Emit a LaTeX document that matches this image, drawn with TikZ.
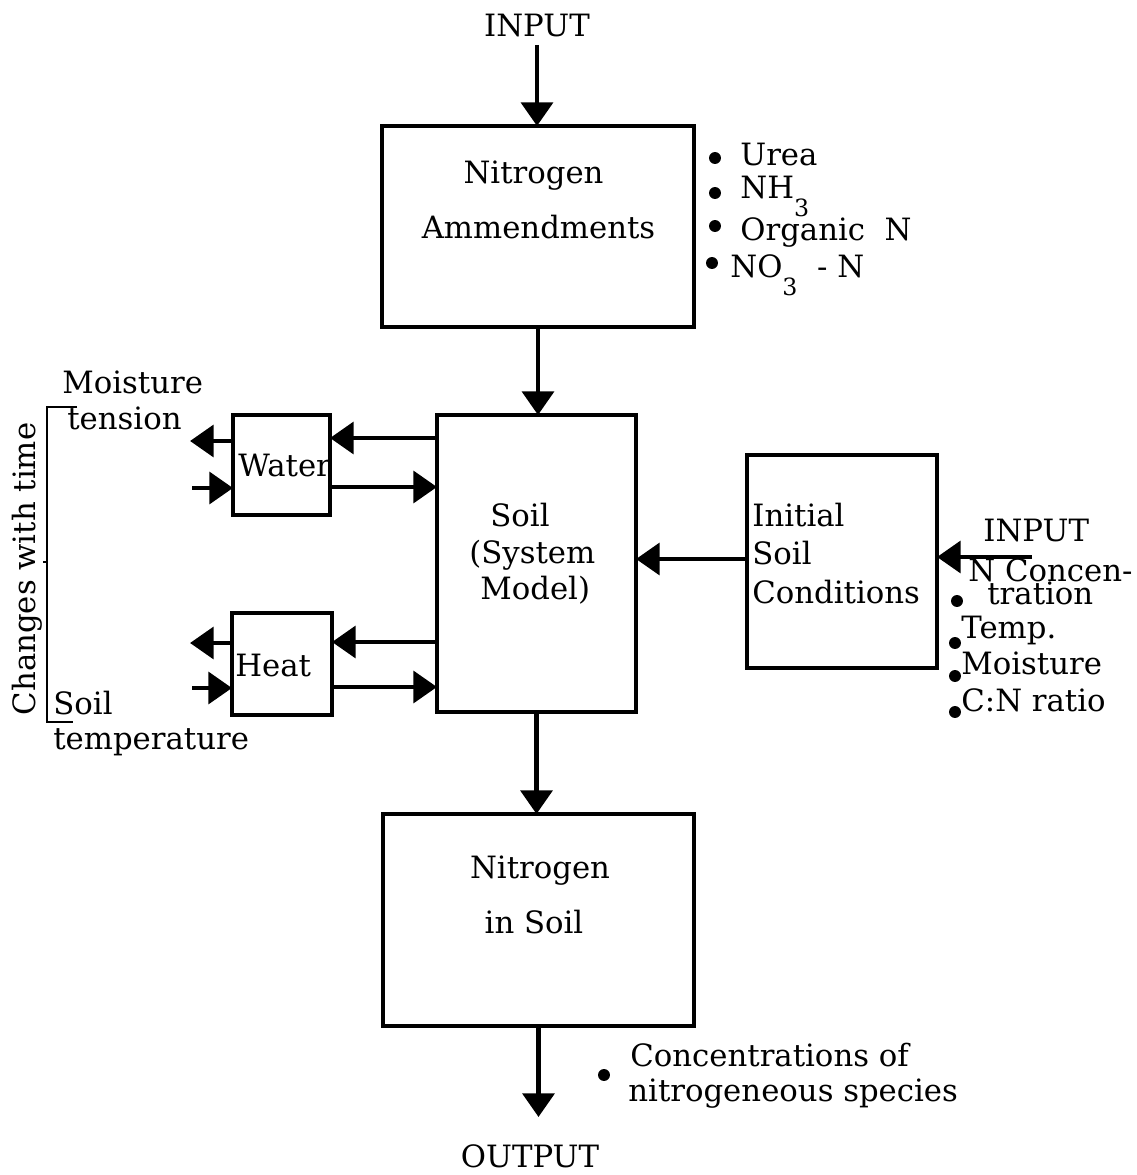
\documentclass[tikz,border=0pt]{standalone}
\usepackage{fontspec}
\setmainfont{DejaVu Serif}
\usetikzlibrary{arrows.meta}
\begin{document}
\begin{tikzpicture}[x=0.02cm,y=-0.02cm,
  box/.style={draw,line width=2.3pt,inner sep=0pt,outer sep=0pt},
  arr/.style={line width=2.8pt,-{Triangle[length=13.5pt,width=18pt]}},
  txt/.style={inner sep=0pt,font=\fontsize{17.5}{21}\selectfont},
  dot/.style={fill,circle,inner sep=0pt,minimum size=6.8pt}]
\useasboundingbox (0,0) rectangle (1136,1175);

% boxes
\node[box,minimum width=6.24cm,minimum height=4.02cm] (amend) at (538,226.5) {};
\node[box,minimum width=3.98cm,minimum height=5.94cm] (soil) at (536.5,563.5) {};
\node[box,minimum width=1.94cm,minimum height=2.0cm] (water) at (281.5,465) {};
\node[box,minimum width=2.0cm,minimum height=2.04cm] (heat) at (282,664) {};
\node[box,minimum width=3.8cm,minimum height=4.26cm] (init) at (842,561.5) {};
\node[box,minimum width=6.22cm,minimum height=4.24cm] (nsoil) at (538.5,920) {};

% texts in boxes
\node[txt,anchor=base] (t1a) at (533.5,184) {Nitrogen};
\node[txt,anchor=base] (t1b) at (538.5,239) {Ammendments};
\node[txt,anchor=base west] (t2a) at (490,526) {Soil};
\node[txt,anchor=base west] (t2b) at (469,563) {(System};
\node[txt,anchor=base west] (t2c) at (480,599) {Model)};
\node[txt,anchor=base west] (t3) at (238,476) {Water};
\node[txt,anchor=base west] (t4) at (235,676) {Heat};
\node[txt,anchor=base west] (t5a) at (752,526) {Initial};
\node[txt,anchor=base west] (t5b) at (752,564) {Soil};
\node[txt,anchor=base west] (t5c) at (752,603) {Conditions};
\node[txt,anchor=base] (t6a) at (540,878) {Nitrogen};
\node[txt,anchor=base] (t6b) at (534,933) {in Soil};

% top input / output
\node[txt,anchor=base] (inputTop) at (537,37) {INPUT};
\node[txt,anchor=base] (output) at (530,1167) {OUTPUT};
\node[txt,anchor=base west] (inputR) at (983,541) {INPUT};

% amendment list
\node[dot] (d1) at (715,158) {};
\node[dot] (d2) at (715,193) {};
\node[dot] (d3) at (715,226) {};
\node[dot] (d4) at (712,263) {};
\node[txt,anchor=base west] (l1) at (740,166) {Urea};
\node[txt,anchor=base west] (l2) at (740,199) {NH\raisebox{-10pt}{\fontsize{13.5}{14}\selectfont 3}};
\node[txt,anchor=base west] (l3) at (740,241) {Organic\ \ N};
\node[txt,anchor=base west] (l4) at (730,278) {NO\raisebox{-10pt}{\fontsize{13.5}{14}\selectfont 3}\ \ -\ N};

% initial conditions list
\node[txt,anchor=base west] (r1) at (968,581) {N Concen-};
\node[txt,anchor=base west] (r2) at (987,604) {tration};
\node[txt,anchor=base west] (r3) at (961,638) {Temp.};
\node[txt,anchor=base west] (r4) at (961,674) {Moisture};
\node[txt,anchor=base west] (r5) at (961,711) {C:N ratio};
\node[dot] (e1) at (957,601) {};
\node[dot] (e2) at (955,643) {};
\node[dot] (e3) at (955,676) {};
\node[dot] (e4) at (955,712) {};

% output list
\node[dot] (o1) at (604,1075) {};
\node[txt,anchor=base west] (o2) at (630,1066) {Concentrations of};
\node[txt,anchor=base west] (o3) at (628,1101) {nitrogeneous species};

% left labels
\node[txt,anchor=base west] (m1) at (62,394) {Moisture};
\node[txt,anchor=base west] (m2) at (67,429) {tension};
\node[txt,anchor=base west] (s1) at (53,714) {Soil};
\node[txt,anchor=base west] (s2) at (53,749) {temperature};
\node[txt,rotate=90] (chg) at (27,569) {Changes with time};
\draw[line width=1.3pt] (77,407) -- (47,407) -- (47,722) -- (73,722);
\draw[line width=1.3pt] (47,562) -- (43,562);

% coordinates for connectors
\coordinate (inTop) at (537,45);
\coordinate (outEnd) at (538.5,1117);
\coordinate (inRend) at (1032,557);
\coordinate (yw1) at (0,438);
\coordinate (yw2) at (0,487);
\coordinate (yh1) at (0,642);
\coordinate (yh2) at (0,687);
\coordinate (yc) at (0,559);
\coordinate (wl1) at (190,441);
\coordinate (wl2) at (192,488);
\coordinate (hl1) at (190,643);
\coordinate (hl2) at (192,688);

% connectors
\draw[arr] (inTop) -- (inTop |- amend.north);
\draw[arr] (amend.south) -- (amend.south |- soil.north);
\draw[arr] (soil.south) -- (soil.south |- nsoil.north);
\draw[arr] (nsoil.south) -- (outEnd);
\draw[arr] (soil.west |- yw1) -- (water.east |- yw1);
\draw[arr] (water.east |- yw2) -- (soil.west |- yw2);
\draw[arr] (soil.west |- yh1) -- (heat.east |- yh1);
\draw[arr] (heat.east |- yh2) -- (soil.west |- yh2);
\draw[arr] (water.west |- wl1) -- (wl1);
\draw[arr] (wl2) -- (water.west |- wl2);
\draw[arr] (heat.west |- hl1) -- (hl1);
\draw[arr] (hl2) -- (heat.west |- hl2);
\draw[arr] (init.west |- yc) -- (soil.east |- yc);
\draw[arr] (inRend) -- (init.east |- inRend);
\end{tikzpicture}
\end{document}
